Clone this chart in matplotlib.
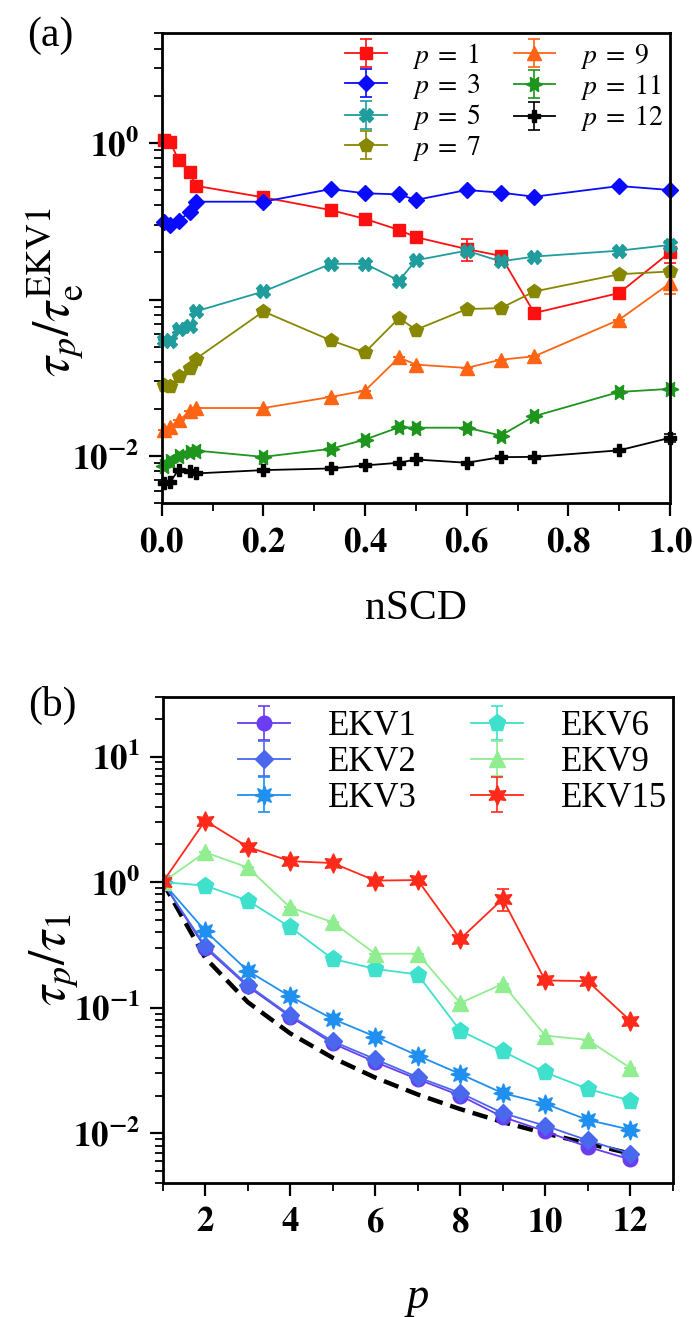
import numpy as np
import matplotlib
matplotlib.use('Agg')
import matplotlib.pyplot as plt
from matplotlib.ticker import LogLocator, MultipleLocator, FuncFormatter, NullFormatter

plt.rcParams['font.family'] = ['Liberation Serif', 'DejaVu Serif']
plt.rcParams['mathtext.fontset'] = 'stix'

# ---- panel (a) data ----
nscd = [0.005, 0.0167, 0.0333, 0.0556, 0.0667, 0.2, 0.333, 0.4, 0.467, 0.5,
        0.6, 0.667, 0.733, 0.9, 1.0]
tau_p1 = [1.05, 1.01, 0.776, 0.653, 0.532, 0.449, 0.372, 0.327, 0.278, 0.250,
          0.210, 0.190, 0.082, 0.110, 0.200]
tau_p3 = [0.314, 0.299, 0.318, 0.364, 0.421, 0.421, 0.507, 0.476, 0.469, 0.432,
          0.500, 0.481, 0.453, 0.530, 0.500]
tau_p5 = [0.0554, 0.054, 0.0648, 0.0673, 0.0839, 0.1125, 0.169, 0.169, 0.132, 0.178,
          0.205, 0.175, 0.188, 0.205, 0.223]
tau_p7 = [0.0286, 0.0279, 0.0327, 0.0366, 0.0417, 0.0839, 0.0548, 0.046, 0.0762, 0.0641,
          0.0869, 0.0881, 0.1125, 0.145, 0.151]
tau_p9 = [0.01465, 0.0154, 0.0169, 0.0193, 0.0203, 0.0203, 0.0239, 0.0262, 0.0427, 0.0384,
          0.0366, 0.0413, 0.0434, 0.0743, 0.127]
tau_p11 = [0.00863, 0.00929, 0.0100, 0.01066, 0.01087, 0.0099, 0.01115, 0.01277, 0.0153, 0.0152,
           0.0152, 0.01355, 0.018, 0.0257, 0.0269]
tau_p12 = [0.0067, 0.00683, 0.00822, 0.00802, 0.00776, 0.00815, 0.00835, 0.00873, 0.00908, 0.00953,
           0.00908, 0.00986, 0.0099, 0.0109, 0.0131]
err_p1 = [0, 0, 0, 0, 0, 0, 0, 0, 0, 0, 0.033, 0, 0, 0, 0.03]
err_p5 = [0, 0, 0, 0, 0, 0, 0, 0, 0, 0, 0, 0, 0, 0, 0.012]
err_p9 = [0, 0, 0, 0, 0, 0, 0, 0, 0, 0, 0, 0, 0, 0, 0.018]
err_p12 = [0, 0, 0, 0, 0, 0, 0, 0, 0, 0, 0, 0, 0, 0, 0.0008]
zero15 = [0] * 15

# ---- panel (b) data ----
p_vals = [1, 2, 3, 4, 5, 6, 7, 8, 9, 10, 11, 12]
ekv1 = [1, 0.30, 0.148, 0.085, 0.052, 0.037, 0.027, 0.020, 0.0135, 0.0104, 0.0078, 0.0062]
ekv2 = [1, 0.31, 0.152, 0.087, 0.054, 0.039, 0.028, 0.021, 0.0145, 0.0115, 0.0088, 0.0069]
ekv3 = [1, 0.41, 0.197, 0.123, 0.0815, 0.059, 0.0416, 0.0297, 0.0209, 0.0172, 0.0128, 0.0107]
ekv6 = [1, 0.94, 0.714, 0.438, 0.245, 0.204, 0.184, 0.0658, 0.045, 0.0306, 0.0226, 0.0182]
ekv9 = [1, 1.73, 1.31, 0.63, 0.48, 0.269, 0.27, 0.109, 0.155, 0.060, 0.0555, 0.0332]
ekv15 = [1, 3.09, 1.91, 1.47, 1.42, 1.03, 1.04, 0.353, 0.735, 0.165, 0.163, 0.079]
err_ekv15 = [0, 0, 0.12, 0, 0, 0, 0, 0, 0.15, 0, 0, 0]
zero12 = [0] * 12
ref_curve = [1.0, 0.25, 0.111, 0.0625, 0.040, 0.0278, 0.0204, 0.0156, 0.0123, 0.0100, 0.0083, 0.0069]

fig = plt.figure(figsize=(6.92, 13.17), dpi=100)
ax1 = fig.add_axes([0.2337, 0.6178, 0.7345, 0.3569])
ax2 = fig.add_axes([0.2351, 0.1015, 0.7370, 0.3695])


def style_axes(ax):
    for s in ax.spines.values():
        s.set_linewidth(2)
    ax.tick_params(which='major', direction='out', length=9.5, width=1.6,
                   top=False, right=False, pad=7, labelsize=25)
    ax.tick_params(which='minor', direction='out', length=5.5, width=1.3,
                   top=False, right=False)


def log_fmt(shown):
    def f(v, pos):
        e = int(round(np.log10(v)))
        if e in shown:
            return r'$\mathbf{10^{%d}}$' % e
        return ''
    return FuncFormatter(f)


# ---- panel (a) ----
top_series = [
    (tau_p1, err_p1, '#ff1010', 's', 8.5, r'$p\;=\;1$'),
    (tau_p3, zero15, '#0a0aff', 'D', 8.5, r'$p\;=\;3$'),
    (tau_p5, err_p5, '#1f9c9c', 'X', 9.5, r'$p\;=\;5$'),
    (tau_p7, zero15, '#878700', 'p', 10, r'$p\;=\;7$'),
    (tau_p9, err_p9, '#ff6414', '^', 9.5, r'$p\;=\;9$'),
    (tau_p11, zero15, '#1e961e', (6, 1, 30), 12, r'$p\;=\;11$'),
    (tau_p12, err_p12, '#000000', 'P', 9, r'$p\;=\;12$'),
]
for y, err, c, m, ms, lab in top_series:
    ax1.errorbar(nscd, y, yerr=err, color=c, marker=m, ms=ms, lw=1.3,
                 capsize=4, elinewidth=1.2, capthick=1.2, label=lab, clip_on=False)

ax1.set_yscale('log')
ax1.set_xlim(0, 1)
ax1.set_ylim(0.005, 5)
ax1.xaxis.set_major_locator(MultipleLocator(0.2))
ax1.xaxis.set_minor_locator(MultipleLocator(0.1))
ax1.xaxis.set_major_formatter(FuncFormatter(lambda v, pos: r'$\mathbf{%.1f}$' % v))
ax1.yaxis.set_major_locator(LogLocator(base=10, numticks=10))
ax1.yaxis.set_minor_locator(LogLocator(base=10, subs=np.arange(2, 10), numticks=10))
ax1.yaxis.set_major_formatter(log_fmt([0, -2]))
ax1.yaxis.set_minor_formatter(NullFormatter())
style_axes(ax1)
ax1.set_ylabel(r'$\tau_p/\tau_{\rm e}^{\rm EKV1}$', fontsize=37)
ax1.yaxis.set_label_coords(-0.15, 0.45)
ax1.legend(ncol=2, loc='upper right', bbox_to_anchor=(1.02, 1.02), frameon=False,
           fontsize=20, handlelength=1.5, handletextpad=0.9, columnspacing=1.2,
           labelspacing=0.05, borderaxespad=0.2)

# ---- panel (b) ----
bot_series = [
    (ekv1, zero12, '#6a3cf2', 'o', 10.5, 'EKV1'),
    (ekv2, zero12, '#4a68ee', 'D', 9.5, 'EKV2'),
    (ekv3, zero12, '#1f8ff0', (8, 1, 0), 14, 'EKV3'),
    (ekv6, zero12, '#3fe0cc', 'p', 12.5, 'EKV6'),
    (ekv9, zero12, '#90ee90', '^', 11, 'EKV9'),
    (ekv15, err_ekv15, '#ff2a1a', (6, 1, 0), 14, 'EKV15'),
]
for y, err, c, m, ms, lab in bot_series:
    ax2.errorbar(p_vals, y, yerr=err, color=c, marker=m, ms=ms, lw=1.3,
                 capsize=4.5, elinewidth=1.2, capthick=1.2, label=lab)
ax2.plot(p_vals, ref_curve, color='black', lw=3.2, ls=(0, (3.5, 1.8)), zorder=1)

ax2.set_yscale('log')
ax2.set_xlim(1, 13)
ax2.set_ylim(0.004, 30)
ax2.xaxis.set_major_locator(MultipleLocator(2))
ax2.xaxis.set_minor_locator(MultipleLocator(1))
ax2.xaxis.set_major_formatter(FuncFormatter(lambda v, pos: r'$\mathbf{%d}$' % v))
ax2.yaxis.set_major_locator(LogLocator(base=10, numticks=10))
ax2.yaxis.set_minor_locator(LogLocator(base=10, subs=np.arange(2, 10), numticks=10))
ax2.yaxis.set_major_formatter(log_fmt([1, 0, -1, -2]))
ax2.yaxis.set_minor_formatter(NullFormatter())
style_axes(ax2)
ax2.set_ylabel(r'$\tau_p/\tau_1$', fontsize=37)
ax2.yaxis.set_label_coords(-0.16, 0.46)
ax2.legend(ncol=2, loc='upper right', bbox_to_anchor=(1.03, 1.015), frameon=False,
           fontsize=25, handlelength=1.5, handletextpad=1.1, columnspacing=1.55,
           labelspacing=0.08, borderaxespad=0.2)

# labels outside axes
fig.text(416 / 692, 1 - 619 / 1317, 'nSCD', ha='center', va='baseline', fontsize=30)
fig.text(418 / 692, 1 - 1308 / 1317, 'p', ha='center', va='baseline', fontsize=32,
         style='italic')
fig.text(50 / 692, 1 - 36 / 1317, '(a)', ha='center', va='center', fontsize=30)
fig.text(52 / 692, 1 - 705 / 1317, '(b)', ha='center', va='center', fontsize=30)

fig.savefig('out.png', dpi=100)
